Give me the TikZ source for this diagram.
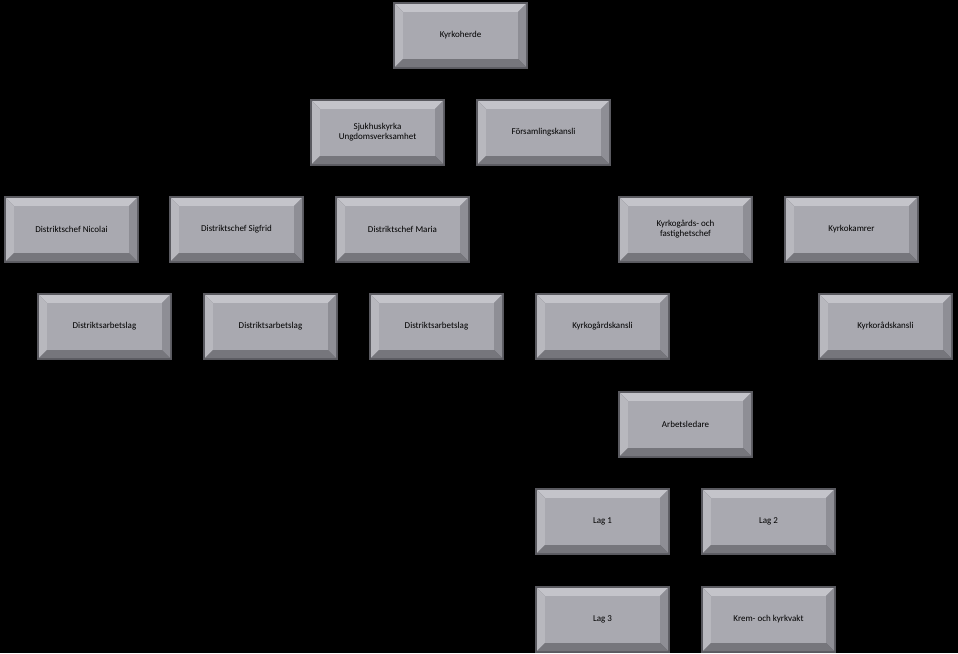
\documentclass[tikz,border=0pt]{standalone}
\usepackage{fontspec}
\setmainfont{Carlito}
\definecolor{face}{HTML}{A9A9B0}
\definecolor{btop}{HTML}{C4C4CA}
\definecolor{bleft}{HTML}{B8B8BE}
\definecolor{bright}{HTML}{8E8E95}
\definecolor{bbot}{HTML}{76767C}
\definecolor{edge}{HTML}{5A5A60}
\tikzset{lbl/.style={font=\fontsize{9}{10}\selectfont,align=center,text=black}}
\newcommand{\bx}[4]{%
 \begin{scope}[shift={(#2,#3)}]
 \fill[edge] (0,0) rectangle (135,67);
 \fill[btop] (2,2)--(133,2)--(125,10)--(10,10)--cycle;
 \fill[bleft] (2,2)--(10,10)--(10,57)--(2,65)--cycle;
 \fill[bright] (133,2)--(133,65)--(125,57)--(125,10)--cycle;
 \fill[bbot] (2,65)--(133,65)--(125,57)--(10,57)--cycle;
 \fill[face] (10,10) rectangle (125,57);
 \node[lbl] (#1) at (67.5,33.5) {#4};
 \end{scope}}
\begin{document}
\begin{tikzpicture}[x=1pt,y=-1pt]
\fill[black] (0,0) rectangle (958,653);
\useasboundingbox (0,0) rectangle (958,653);
\bx{kh}{393}{2}{Kyrkoherde}
\bx{sj}{310}{99}{Sjukhuskyrka\\Ungdomsverksamhet}
\bx{fk}{476}{99}{Församlingskansli}
\bx{dn}{4}{196}{Distriktschef Nicolai}
\bx{ds}{169}{196}{Distriktschef Sigfrid}
\bx{dm}{335}{196}{Distriktschef Maria}
\bx{kf}{618}{196}{Kyrkogårds- och\\fastighetschef}
\bx{kk}{784}{196}{Kyrkokamrer}
\bx{da}{37}{293}{Distriktsarbetslag}
\bx{db}{203}{293}{Distriktsarbetslag}
\bx{dc}{369}{293}{Distriktsarbetslag}
\bx{kgk}{535}{293}{Kyrkogårdskansli}
\bx{krk}{818}{293}{Kyrkorådskansli}
\bx{al}{618}{391}{Arbetsledare}
\bx{la}{535}{488}{Lag 1}
\bx{lb}{701}{488}{Lag 2}
\bx{lc}{535}{586}{Lag 3}
\bx{kv}{701}{586}{Krem- och kyrkvakt}
\end{tikzpicture}
\end{document}
